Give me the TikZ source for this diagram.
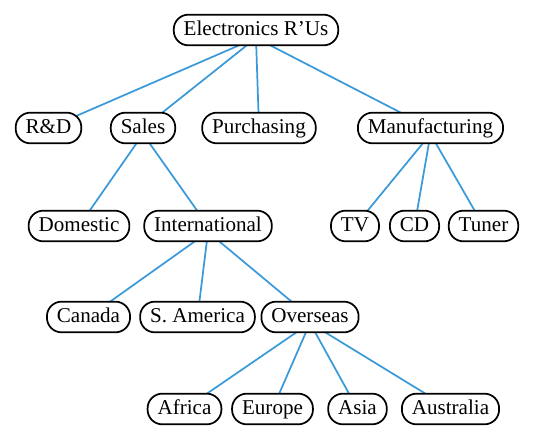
\documentclass[tikz,border=0pt]{standalone}
\usepackage{fontspec}
\setmainfont{Liberation Serif}
\usepackage{tikz}
\usetikzlibrary{calc,backgrounds}
\definecolor{azulrama}{RGB}{58,154,217}

\begin{document}
\begin{tikzpicture}[x=0.75pt,y=-0.75pt,
   caja/.style={draw,line width=1.3pt,fill=white,rounded corners=11pt,minimum height=23pt,
      text height=12pt,text depth=3pt,inner xsep=7.5pt,inner ysep=4pt,
      font=\fontsize{15.8}{19}\selectfont},
   rama/.style={draw=azulrama,line width=1.3pt}]
   \useasboundingbox (0,0) rectangle (543,441);
   %raiz
   \node[caja] (er) at (256,30) {Electronics R'Us};
   %nivel 1
   \node[caja] (ryd) at (48.5,128) {R\&D};
   \node[caja] (ventas) at (143,128) {Sales};
   \node[caja] (compras) at (259,128) {Purchasing};
   \node[caja] (fab) at (430.5,128) {Manufacturing};
   %nivel 2
   \node[caja] (dom) at (79,226) {Domestic};
   \node[caja] (intl) at (208,226) {International};
   \node[caja] (tv) at (355,226) {TV};
   \node[caja] (cd) at (414.5,226) {CD};
   \node[caja] (sint) at (483.5,226) {Tuner};
   %nivel 3
   \node[caja] (can) at (88.5,317) {Canada};
   \node[caja] (sam) at (197.5,317) {S. America};
   \node[caja] (ultra) at (310,317) {Overseas};
   %nivel 4
   \node[caja] (afr) at (184.5,409) {Africa};
   \node[caja] (eur) at (272.5,409) {Europe};
   \node[caja] (asia) at (357.5,409) {Asia};
   \node[caja] (aus) at (450.5,409) {Australia};
   %ramas
   \begin{pgfonlayer}{background}
      \draw[rama] ($(er.center)+(0,8)$) -- (ryd.center);
      \draw[rama] ($(er.center)+(0,8)$) -- (ventas.center);
      \draw[rama] ($(er.center)+(0,8)$) -- (compras.center);
      \draw[rama] ($(er.center)+(0,8)$) -- (fab.center);
      \draw[rama] ($(ventas.center)+(0,6)$) -- (dom.center);
      \draw[rama] ($(ventas.center)+(0,6)$) -- (intl.center);
      \draw[rama] ($(fab.center)+(0,6)$) -- (tv.center);
      \draw[rama] ($(fab.center)+(0,6)$) -- (cd.center);
      \draw[rama] ($(fab.center)+(0,6)$) -- (sint.center);
      \draw[rama] ($(intl.center)+(0,6)$) -- (can.center);
      \draw[rama] ($(intl.center)+(0,6)$) -- (sam.center);
      \draw[rama] ($(intl.center)+(0,6)$) -- (ultra.center);
      \draw[rama] ($(ultra.center)+(0,6)$) -- (afr.center);
      \draw[rama] ($(ultra.center)+(0,6)$) -- (eur.center);
      \draw[rama] ($(ultra.center)+(0,6)$) -- (asia.center);
      \draw[rama] ($(ultra.center)+(0,6)$) -- (aus.center);
   \end{pgfonlayer}
\end{tikzpicture}
\end{document}
